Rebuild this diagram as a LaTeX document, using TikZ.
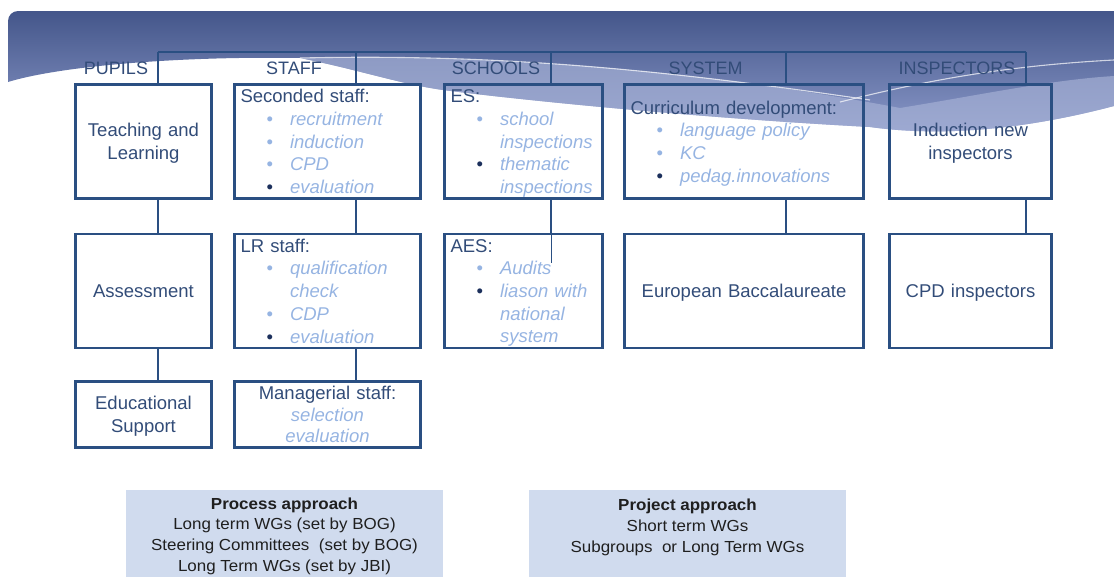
\documentclass[tikz,border=0pt]{standalone}
\usepackage{fontspec}
\setmainfont{Liberation Sans}
\newfontfamily\apprfamily{Liberation Sans}[FakeStretch=1.06]
\usetikzlibrary{calc}
\definecolor{linec}{RGB}{42,79,130}
\definecolor{txtc}{RGB}{50,76,120}
\definecolor{lightc}{RGB}{150,180,226}
\definecolor{bdark}{RGB}{28,48,92}
\definecolor{boxfill}{RGB}{208,219,238}
\definecolor{bantop}{RGB}{68,86,138}
\definecolor{banbot}{RGB}{140,154,202}
\definecolor{wedgec}{RGB}{168,179,215}
\newcommand{\mainfnt}{\fontsize{18.5}{22.7}\selectfont}
\newcommand{\hdrfnt}{\fontsize{18}{20}\selectfont}
\newcommand{\apprfnt}{\apprfamily\fontsize{16}{20.7}\selectfont}
\newcommand{\bulL}{\hspace*{26pt}\makebox[23.5pt][l]{\textcolor{lightc}{•}}}
\newcommand{\bulD}{\hspace*{26pt}\makebox[23.5pt][l]{\textcolor{bdark}{•}}}
\newcommand{\contL}{\hspace*{49.5pt}}
\newcommand{\litem}[1]{\textcolor{lightc}{\itshape #1}}
\newcommand{\tstr}{\rule{0pt}{17pt}}
\newcommand{\bstr}{\rule[-3.8pt]{0pt}{3.8pt}}
\tikzset{
  box/.style={draw=linec, line width=2.8pt, inner xsep=6pt, inner ysep=0pt, font=\mainfnt, text=txtc},
  cbox/.style={box, align=center},
  lbox/.style={box, align=left},
  conn/.style={draw=linec, line width=2.8pt},
  thinconn/.style={draw=linec, line width=1pt},
  hdr/.style={font=\hdrfnt, text=txtc, inner sep=0pt},
  appr/.style={fill=boxfill, minimum width=317pt, minimum height=92pt, anchor=north, align=center, font=\apprfnt, text=black!88, inner sep=0pt},
  wisp/.style={draw=white, draw opacity=0.7, line width=1.1pt}
}
\begin{document}
\begin{tikzpicture}[x=1pt,y=-1pt]
\useasboundingbox (0,0) rectangle (1114,576);
% ---- banner background ----
\shade[top color=bantop, bottom color=banbot]
  (8,82) -- (8,21) [rounded corners=10pt] -- (8,11) [sharp corners] -- (1114,11) -- (1114,106)
  .. controls (1000,136) and (920,134) .. (870,127)
  .. controls (700,118) and (520,100) .. (443,90)
  .. controls (400,84) and (360,70) .. (300,58)
  .. controls (180,56) and (60,66) .. (8,82) -- cycle;
\fill[wedgec, opacity=0.65]
  (300,58) .. controls (500,54) and (700,70) .. (900,108)
  .. controls (980,95) and (1050,80) .. (1114,76) -- (1114,106)
  .. controls (1000,136) and (920,134) .. (870,127)
  .. controls (700,118) and (520,100) .. (443,90)
  .. controls (400,84) and (360,70) .. (300,58) -- cycle;
\draw[wisp] (300,58) .. controls (480,54) and (640,66) .. (870,100);
\draw[wisp] (1114,60) .. controls (1000,66) and (920,82) .. (840,102);
% ---- column labels ----
\node[hdr] (lp) at (116,68) {PUPILS};
\node[hdr] (ls) at (294,68) {STAFF};
\node[hdr] (lsc) at (496,68) {SCHOOLS};
\node[hdr] (lsy) at (705.5,68) {SYSTEM};
\node[hdr] (lin) at (957,68) {INSPECTORS};
% ---- tree coordinates ----
\coordinate (c1) at (158,52);
\coordinate (c2) at (356,52);
\coordinate (c3) at (551,52);
\coordinate (c4) at (786,52);
\coordinate (c5) at (1026,52);
% ---- row 1 ----
\node[cbox, minimum width=136pt, minimum height=114pt, text width=124pt] (tl) at (143.5,141.5) {\tstr Teaching and\\Learning\bstr};
\node[lbox, minimum width=186pt, minimum height=114pt, text width=174pt] (ss) at (327.5,141.5)
  {\tstr Seconded staff:\\\bulL\litem{recruitment}\\\bulL\litem{induction}\\\bulL\litem{CPD}\\\bulD\litem{evaluation}\bstr};
\node[lbox, minimum width=158pt, minimum height=114pt, text width=146pt] (es) at (523.5,141.5)
  {\tstr ES:\\\bulL\litem{school}\\\contL\litem{inspections}\\\bulD\litem{thematic}\\\contL\litem{inspections}\bstr};
\node[lbox, minimum width=239pt, minimum height=114pt, text width=227pt] (cd) at (744,141.5)
  {\tstr Curriculum development:\\\bulL\litem{language policy}\\\bulL\litem{KC}\\\bulD\litem{pedag.innovations}\bstr};
\node[cbox, minimum width=162pt, minimum height=114pt, text width=150pt] (ind) at (970.5,141.5) {\tstr Induction new\\inspectors\bstr};
% ---- row 2 ----
\node[cbox, minimum width=136pt, minimum height=114pt, text width=124pt] (as) at (143.5,291) {\tstr Assessment\bstr};
\node[lbox, minimum width=186pt, minimum height=114pt, text width=174pt] (lr) at (327.5,291)
  {\tstr LR staff:\\\bulL\litem{qualification}\\\contL\litem{check}\\\bulL\litem{CDP}\\\bulD\litem{evaluation}\bstr};
\node[lbox, minimum width=158pt, minimum height=114pt, text width=146pt] (aes) at (523.5,291)
  {\tstr AES:\\\bulL\litem{Audits}\\\bulD\litem{liason with}\\\contL\litem{national}\\\contL\litem{system}\bstr};
\node[cbox, minimum width=239pt, minimum height=114pt, text width=227pt] (eb) at (744,291) {\tstr European Baccalaureate\bstr};
\node[cbox, minimum width=162pt, minimum height=114pt, text width=150pt] (cpd) at (970.5,291) {\tstr CPD inspectors\bstr};
% ---- row 3 ----
\node[cbox, minimum width=136pt, minimum height=66pt, text width=124pt] (eds) at (143.5,414.5) {\tstr Educational\\Support\bstr};
\node[cbox, minimum width=186pt, minimum height=66pt, text width=174pt, font=\fontsize{18.5}{21.5}\selectfont] (ms) at (327.5,414.5)
  {\tstr Managerial staff:\\\litem{selection}\\\litem{evaluation}\bstr};
% ---- connectors ----
\draw[conn] (c1) -- (c5);
\draw[conn] (c1) -- (tl.north -| c1);
\draw[conn] (c2) -- (ss.north -| c2);
\draw[conn] (c3) -- (es.north -| c3);
\draw[conn] (c4) -- (cd.north -| c4);
\draw[conn] (c5) -- (ind.north -| c5);
\draw[conn] (tl.south -| c1) -- (as.north -| c1);
\draw[conn] (as.south -| c1) -- (eds.north -| c1);
\draw[conn] (ss.south -| c2) -- (lr.north -| c2);
\draw[conn] (lr.south -| c2) -- (ms.north -| c2);
\draw[conn] (es.south -| c3) -- (aes.north -| c3);
\draw[conn] (cd.south -| c4) -- (eb.north -| c4);
\draw[conn] (ind.south -| c5) -- (cpd.north -| c5);
\draw[thinconn] (aes.north -| c3) -- ++(0,30);
% ---- approach boxes ----
\node[appr] (proc) at (284.5,490) {\textbf{Process approach}\\Long term WGs (set by BOG)\\Steering Committees\ \ (set by BOG)\\Long Term WGs (set by JBI)};
\node[appr] (proj) at (687.5,490) {\textbf{Project approach}\\Short term WGs\\Subgroups\ \ or Long Term WGs\\\mbox{}};
\end{tikzpicture}
\end{document}
